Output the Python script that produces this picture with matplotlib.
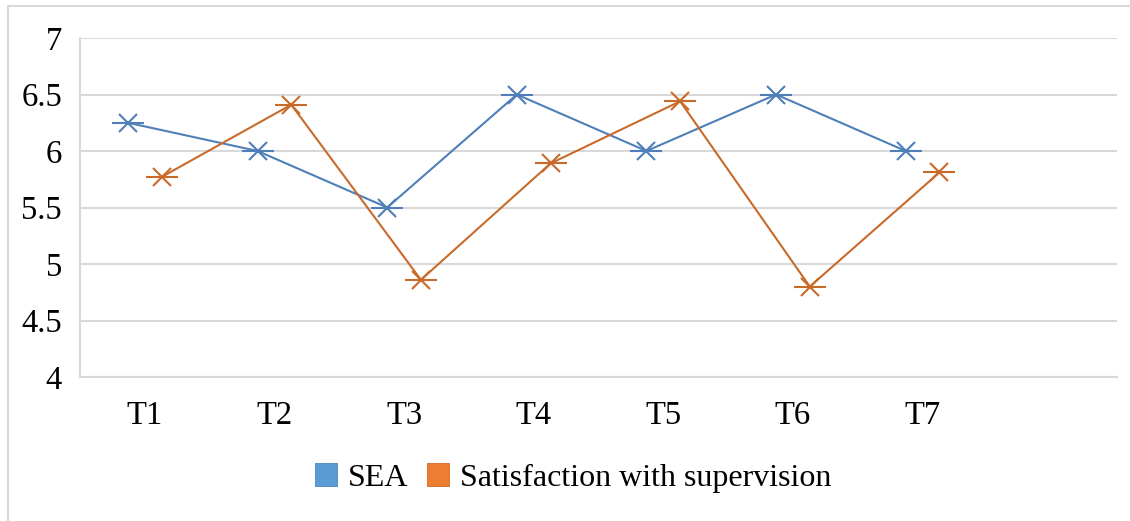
import numpy as np
import matplotlib
matplotlib.use("Agg")
import matplotlib.pyplot as plt
from matplotlib.patches import Patch
from matplotlib.lines import Line2D

categories = ["T1", "T2", "T3", "T4", "T5", "T6", "T7"]
sea = [6.25, 6.0, 5.5, 6.5, 6.0, 6.5, 6.0]
supervision = [5.77, 6.41, 4.86, 5.89, 6.44, 4.80, 5.81]
yticks = [4, 4.5, 5, 5.5, 6, 6.5, 7]
ytick_labels = ["4", "4.5", "5", "5.5", "6", "6.5", "7"]

blue_line = "#4F7FB8"
orange_line = "#C96A2B"
blue_fill = "#5B9BD5"
orange_fill = "#ED7D31"
grid_col = "#D9D9D9"

plt.rcParams["font.family"] = ["Liberation Serif", "DejaVu Serif"]

fig = plt.figure(figsize=(11.3, 5.21), dpi=100)
ax = fig.add_axes([80 / 1130, 1 - 377 / 521, (1117 - 80) / 1130, (377 - 38) / 521])

x = np.arange(len(categories))
off = 0.13

def star_series(xs, ys, col):
    ax.plot(xs, ys, color=col, lw=1.5, zorder=3)
    ax.plot(xs, ys, ls="none", marker="x", ms=13.5, mew=1.5, color=col, zorder=4)
    ax.plot(xs, ys, ls="none", marker="_", ms=23, mew=1.5, color=col, zorder=4)

star_series(x - off, sea, blue_line)
star_series(x + off, supervision, orange_line)

ax.set_xlim(-0.5, len(categories) + 0.5)
ax.set_ylim(4, 7)
ax.set_yticks(yticks)
ax.set_yticklabels(ytick_labels)
ax.set_xticks(x)
ax.set_xticklabels(categories)
ax.tick_params(axis="both", length=0, labelsize=23.5, colors="#000000")
ax.tick_params(axis="y", pad=13)
ax.tick_params(axis="x", pad=17)
ax.yaxis.grid(True, color=grid_col, lw=1.5)
ax.set_axisbelow(True)
for s in ["top", "right"]:
    ax.spines[s].set_visible(False)
for s in ["left", "bottom"]:
    ax.spines[s].set_color(grid_col)
    ax.spines[s].set_linewidth(1.5)

handles = [Patch(facecolor=blue_fill, edgecolor="#4A86C0", lw=0.6, label="SEA"),
           Patch(facecolor=orange_fill, edgecolor="#D06A25", lw=0.6, label="Satisfaction with supervision")]
fig.legend(handles=handles, loc="center", bbox_to_anchor=(573 / 1130, 1 - 478 / 521),
           ncol=2, frameon=False, fontsize=23, handlelength=0.69, handleheight=0.69,
           handletextpad=0.34, columnspacing=0.6)

# outer chart border (left and top visible)
fig.add_artist(Line2D([7.5 / 1130, 7.5 / 1130], [0, 1 - 6 / 521], color="#D9D9D9", lw=1.5,
                      transform=fig.transFigure))
fig.add_artist(Line2D([7.5 / 1130, 1], [1 - 6 / 521, 1 - 6 / 521], color="#D9D9D9", lw=1.5,
                      transform=fig.transFigure))

fig.savefig("out.png", dpi=100)
